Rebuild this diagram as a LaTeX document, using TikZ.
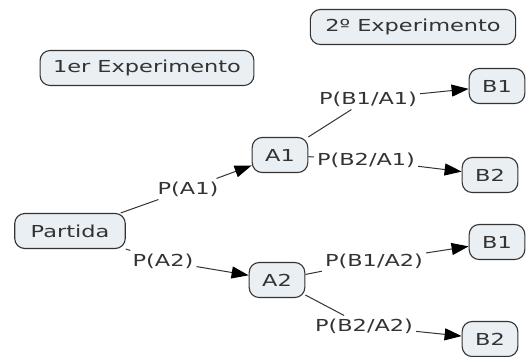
\documentclass[tikz,border=0pt]{standalone}
\usepackage{fontspec}
\setmainfont[FakeStretch=1.36]{DejaVu Sans}
\usetikzlibrary{arrows.meta}
\definecolor{boxfill}{HTML}{E9EFF3}
\definecolor{boxline}{HTML}{333333}
\tikzset{
  box/.style={draw=boxline, fill=boxfill, rounded corners=10pt, line width=1.1pt,
    minimum height=35pt, inner xsep=13pt, text=boxline, font=\fontsize{16.5}{18}\selectfont},
  prob/.style={inner sep=3pt, text=boxline, font=\fontsize{16.5}{18}\selectfont},
  link/.style={draw=boxline, line width=1pt},
  tip/.style={link, -{Triangle[length=17pt,width=12pt,color=black]}}
}
\begin{document}
\begin{tikzpicture}[x=1pt,y=-1pt]
\useasboundingbox (0,0) rectangle (529,356);
% titles
\node[box, inner xsep=15pt] (exp2) at (413,27) {2º Experimento};
\node[box] (exp1) at (147,68) {1er Experimento};
% tree
\node[box, inner xsep=16pt] (partida) at (70,231) {Partida};
\node[box] (A1) at (280,155) {A1};
\node[box] (A2) at (277,280) {A2};
\node[box] (B1a) at (497,86) {B1};
\node[box] (B2a) at (490,175) {B2};
\node[box] (B1b) at (497,242) {B1};
\node[box] (B2b) at (490,339) {B2};
% probabilities
\node[prob] (pA1) at (188,189) {P(A1)};
\node[prob] (pA2) at (163,261) {P(A2)};
\node[prob] (pB1A1) at (368,99) {P(B1/A1)};
\node[prob] (pB2A1) at (366,160) {P(B2/A1)};
\node[prob] (pB1A2) at (374,261) {P(B1/A2)};
\node[prob] (pB2A2) at (364,326) {P(B2/A2)};
\draw[link] (partida) -- (pA1);
\draw[tip] (pA1) -- (A1);
\draw[link] (partida) -- (pA2);
\draw[tip] (pA2) -- (A2);
\draw[link] (A1) -- (pB1A1);
\draw[tip] (pB1A1) -- (B1a);
\draw[link] (A1) -- (pB2A1);
\draw[tip] (pB2A1) -- (B2a);
\draw[link] (A2) -- (pB1A2);
\draw[tip] (pB1A2) -- (B1b);
\draw[link] (A2) -- (pB2A2);
\draw[tip] (pB2A2) -- (B2b);
\end{tikzpicture}
\end{document}
